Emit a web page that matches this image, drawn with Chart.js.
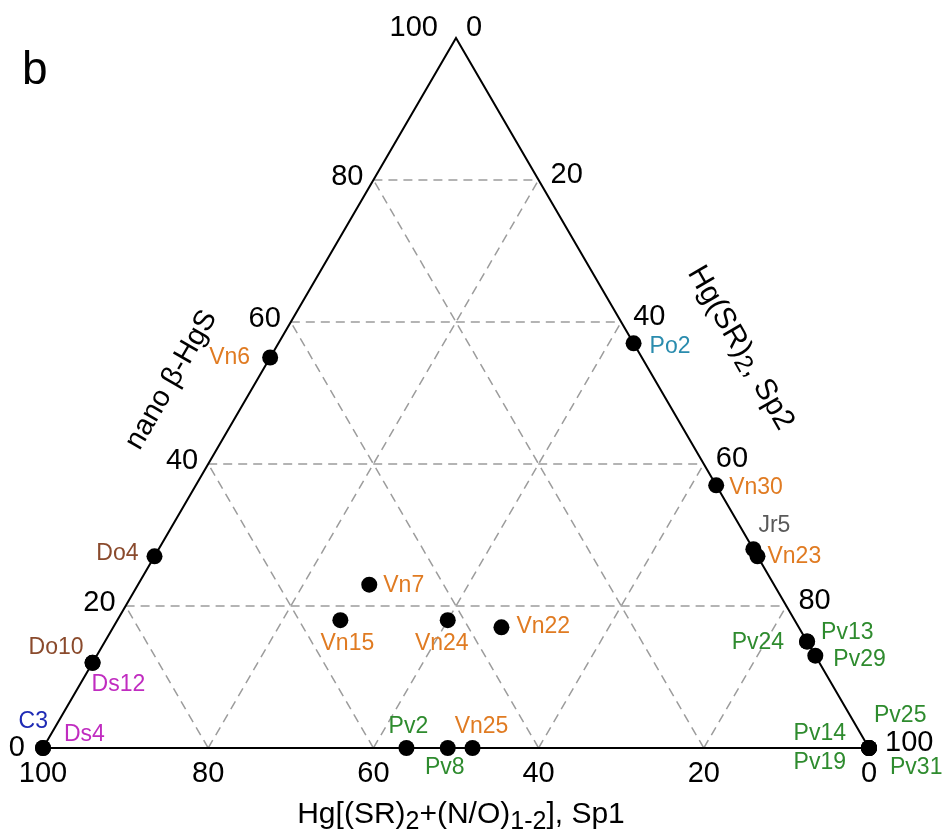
<!DOCTYPE html>
<html>
<head>
<meta charset="utf-8">
<script src="https://cdn.jsdelivr.net/npm/chart.js@4.4.1/dist/chart.umd.min.js"></script>
<style>
  html, body { margin: 0; padding: 0; background: #fff; }
  #wrap { width: 945px; height: 837px; position: relative; }
</style>
</head>
<body>
<div id="wrap"><canvas id="ternary"></canvas></div>
<script>
// Hg speciation, % of each component
const samples = ['C3', 'Ds4', 'Do10', 'Ds12', 'Do4', 'Vn6', 'Po2', 'Vn30', 'Jr5', 'Vn23', 'Vn7', 'Vn15',
                 'Vn24', 'Vn22', 'Pv2', 'Pv8', 'Vn25', 'Pv24', 'Pv13', 'Pv29', 'Pv14', 'Pv19', 'Pv25', 'Pv31'];
const nanoHgS = [0, 0, 12, 12, 27, 55, 57, 37, 28, 27, 23, 18, 18, 17, 0, 0, 0, 15, 15, 13, 0, 0, 0, 0];
const sp1     = [100, 100, 88, 88, 73, 45, 0, 0, 0, 0, 49, 55, 42, 36, 56, 51, 48, 0, 0, 0, 0, 0, 0, 0];
const sp2     = [0, 0, 0, 0, 0, 0, 43, 63, 72, 73, 28, 27, 40, 47, 44, 49, 52, 85, 85, 87, 100, 100, 100, 100];
const tickValues = [0, 20, 40, 60, 80, 100];
const gridValues = [20, 40, 60, 80];

// label colour by sample group
const groupColors = {
    Vn: '#e07b22', Pv: '#2e8b2e', Do: '#8a4a2c', Ds: '#c02cc0',
    C: '#1f2bb5', Po: '#2a8cae', Jr: '#5a5a5a'
};

// where each sample label sits relative to its dot
const labelPlace = {
    C3: [5, -26, 'right'], Ds4: [21, -13, 'left'], Do10: [-9, -15, 'right'], Ds12: [-1, 22, 'left'],
    Do4: [-16, -3, 'right'], Vn6: [-20, 0, 'right'], Po2: [16, 3, 'left'], Vn30: [13, 2, 'left'],
    Jr5: [21, -24, 'center'], Vn23: [10, 0, 'left'], Vn7: [14, 1, 'left'], Vn15: [7, 23, 'center'],
    Vn24: [-6, 23, 'center'], Vn22: [15, -1, 'left'], Pv2: [2, -21, 'center'], Pv8: [-3, 20, 'center'],
    Vn25: [9, -21, 'center'], Pv24: [-23, 1, 'right'], Pv13: [14, -9, 'left'], Pv29: [18, 4, 'left'],
    Pv14: [-23, -14, 'right'], Pv19: [-23, 15, 'right'], Pv25: [5, -32, 'left'], Pv31: [21, 20, 'left']
};

const FONT = '"Liberation Sans", Arial, sans-serif';

// ternary -> cartesian (x runs along the bottom edge, y is the nano β-HgS height)
function toCart(i) {
    const total = nanoHgS[i] + sp1[i] + sp2[i];
    const n = nanoHgS[i] / total * 100;
    const s = sp2[i] / total * 100;
    return { x: s + n / 2, y: n };
}

// draws text with subscript pieces, e.g. [['Hg(SR)'], ['2', true]]
function richText(ctx, parts, x, y, size, align) {
    const subSize = Math.round(size * 0.82);
    let width = 0;
    parts.forEach(p => {
        ctx.font = (p[1] ? subSize : size) + 'px ' + FONT;
        width += ctx.measureText(p[0]).width;
    });
    let cx = align === 'center' ? x - width / 2 : x;
    ctx.textAlign = 'left';
    parts.forEach(p => {
        ctx.font = (p[1] ? subSize : size) + 'px ' + FONT;
        ctx.fillText(p[0], cx, p[1] ? y + size * 0.2 : y);
        cx += ctx.measureText(p[0]).width;
    });
}

const ternaryPlugin = {
    id: 'ternary',
    beforeDatasetsDraw(chart) {
        const { ctx, scales: { x, y } } = chart;
        const P = (n, s) => [x.getPixelForValue(s + n / 2), y.getPixelForValue(n)];
        const seg = (a, b) => { ctx.beginPath(); ctx.moveTo(a[0], a[1]); ctx.lineTo(b[0], b[1]); ctx.stroke(); };

        ctx.save();
        // dashed grid
        ctx.strokeStyle = '#9c9c9c';
        ctx.lineWidth = 1.5;
        ctx.setLineDash([9, 6]);
        gridValues.forEach(k => {
            seg(P(k, 0), P(k, 100 - k));          // constant nano β-HgS
            seg(P(0, k), P(100 - k, k));          // constant Sp2
            seg(P(0, 100 - k), P(100 - k, 0));    // constant Sp1
        });

        // triangle
        ctx.setLineDash([]);
        ctx.strokeStyle = '#000';
        ctx.lineWidth = 2;
        ctx.beginPath();
        [P(0, 0), P(100, 0), P(0, 100)].forEach((p, i) => i ? ctx.lineTo(p[0], p[1]) : ctx.moveTo(p[0], p[1]));
        ctx.closePath();
        ctx.stroke();

        // tick labels
        ctx.fillStyle = '#000';
        ctx.font = '29px ' + FONT;
        ctx.textBaseline = 'middle';
        tickValues.forEach(v => {
            // left edge: nano β-HgS
            let p = P(v, 0);
            let off = v === 0 ? [-18, 0] : v === 100 ? [-18, -10] : [-10, -3];
            ctx.textAlign = 'right';
            ctx.fillText(String(v), p[0] + off[0], p[1] + off[1]);
            // right edge: Sp2
            p = P(100 - v, v);
            off = v === 0 ? [10, -10] : v === 100 ? [16, -5] : [12, -5];
            ctx.textAlign = 'left';
            ctx.fillText(String(v), p[0] + off[0], p[1] + off[1]);
            // bottom edge: Sp1
            p = P(0, 100 - v);
            ctx.textAlign = 'center';
            ctx.fillText(String(v), p[0], p[1] + 26);
        });

        // axis titles
        const mid = (a, b) => [(a[0] + b[0]) / 2, (a[1] + b[1]) / 2];
        ctx.textBaseline = 'alphabetic';
        const bottom = mid(P(0, 0), P(0, 100));
        richText(ctx, [['Hg[(SR)'], ['2', true], ['+(N/O)'], ['1-2', true], ['], Sp1']],
                 bottom[0] + 5, bottom[1] + 75, 30, 'center');

        ctx.textBaseline = 'middle';
        const left = mid(P(0, 0), P(100, 0));
        ctx.save();
        ctx.translate(left[0] - 78, left[1] - 13);
        ctx.rotate(-Math.PI / 3);
        ctx.font = '29px ' + FONT;
        ctx.textAlign = 'center';
        ctx.fillText('nano β-HgS', 0, 0);
        ctx.restore();

        const right = mid(P(100, 0), P(0, 100));
        ctx.save();
        ctx.translate(right[0] + 78, right[1] - 45);
        ctx.rotate(Math.PI / 3);
        richText(ctx, [['Hg(SR)'], ['2', true], [', Sp2']], 0, 0, 30, 'center');
        ctx.restore();

        // panel letter
        ctx.textBaseline = 'alphabetic';
        ctx.textAlign = 'left';
        ctx.font = '46px ' + FONT;
        ctx.fillText('b', 22, 84);
        ctx.restore();
    },
    afterDatasetsDraw(chart) {
        const { ctx } = chart;
        const pts = chart.getDatasetMeta(0).data;
        ctx.save();
        ctx.font = '23px ' + FONT;
        ctx.textBaseline = 'middle';
        samples.forEach((name, i) => {
            const place = labelPlace[name];
            const group = name.replace(/[0-9]+$/, '');
            ctx.fillStyle = groupColors[group];
            ctx.textAlign = place[2];
            ctx.fillText(name, pts[i].x + place[0], pts[i].y + place[1]);
        });
        ctx.restore();
    }
};

new Chart(document.getElementById('ternary'), {
    type: 'scatter',
    data: {
        datasets: [{
            data: samples.map((_, i) => toCart(i)),
            backgroundColor: '#000',
            borderWidth: 0,
            pointRadius: 8,
            pointHoverRadius: 8,
            clip: false
        }]
    },
    options: {
        responsive: true,
        maintainAspectRatio: false,
        animation: false,
        layout: { padding: { left: 43, right: 76, top: 38, bottom: 89 } },
        plugins: { legend: { display: false }, tooltip: { enabled: false } },
        scales: {
            x: { type: 'linear', min: 0, max: 100, display: false },
            y: { type: 'linear', min: 0, max: 100, display: false }
        }
    },
    plugins: [ternaryPlugin]
});
</script>
</body>
</html>
